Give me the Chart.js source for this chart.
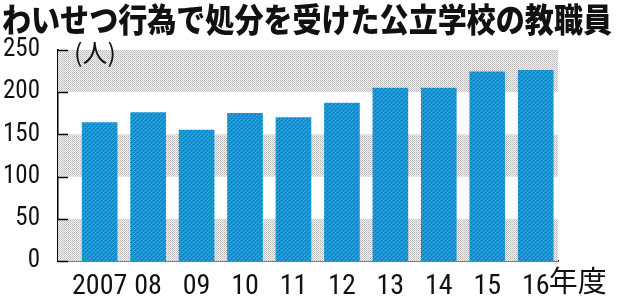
<!DOCTYPE html>
<html>
<head>
<meta charset="utf-8">
<script src="https://cdn.jsdelivr.net/npm/chart.js@4"></script>
<style>
  html, body { margin: 0; padding: 0; background: #fff; }
  #wrap { width: 618px; height: 299px; position: relative; }
</style>
</head>
<body>
<div id="wrap"><canvas id="teacherChart"></canvas></div>
<script>
// わいせつ行為で処分を受けた公立学校の教職員 (人)
const titleText = 'わいせつ行為で処分を受けた公立学校の教職員';
const years = [2007, 2008, 2009, 2010, 2011, 2012, 2013, 2014, 2015, 2016];
const yearLabels = ['2007', '08', '09', '10', '11', '12', '13', '14', '15', '16'];
const teachers = [164, 176, 155, 175, 170, 187, 205, 205, 224, 226];
const yTicks = [0, 50, 100, 150, 200, 250];
const unitLabel = '(人)';
const xUnitLabel = '年度';

// small halftone patterns, like the printed original
function makePattern(size, pixels) {
    const c = document.createElement('canvas');
    c.width = size; c.height = size;
    const g = c.getContext('2d');
    pixels.forEach((col, i) => {
        g.fillStyle = col;
        g.fillRect(i % size, Math.floor(i / size), 1, 1);
    });
    return g.createPattern(c, 'repeat');
}

const B = '#1890d0', D = '#2466b6', M = '#9c5cc2', L = '#34a6dc';
const barFill = makePattern(4, [
    B, D, B, L,
    M, B, L, B,
    B, L, B, D,
    L, B, M, B
]);
const greyFill = makePattern(2, ['#b8b8b8', '#f2f2f2', '#f2f2f2', '#cacaca']);

// grey bands, inner tick marks and text labels
const decorPlugin = {
    id: 'decor',
    beforeDatasetsDraw(chart) {
        const ctx = chart.ctx;
        const area = chart.chartArea;
        const y = chart.scales.y;
        ctx.save();
        ctx.fillStyle = greyFill;
        for (let i = 0; i < yTicks.length - 1; i += 2) {
            const top = y.getPixelForValue(yTicks[yTicks.length - 1 - i]);
            const bot = y.getPixelForValue(yTicks[yTicks.length - 2 - i]);
            ctx.fillRect(area.left, top, area.right - area.left, bot - top);
        }
        ctx.strokeStyle = '#000';
        ctx.lineWidth = 1.5;
        yTicks.forEach(v => {
            const py = Math.round(y.getPixelForValue(v)) + 0.5;
            ctx.beginPath();
            ctx.moveTo(area.left, py);
            ctx.lineTo(area.left + 10, py);
            ctx.stroke();
        });
        ctx.restore();
    },
    afterDraw(chart) {
        const ctx = chart.ctx;
        const area = chart.chartArea;
        const x = chart.scales.x;
        ctx.save();
        ctx.fillStyle = '#111';
        ctx.textBaseline = 'middle';
        ctx.textAlign = 'left';
        // title, stretched a little to the reference width
        ctx.font = '900 31px "Noto Sans CJK JP"';
        const tw = ctx.measureText(titleText).width;
        ctx.save();
        ctx.translate(2, 20);
        ctx.scale(610 / tw, 1.05);
        ctx.fillText(titleText, 0, 0);
        ctx.restore();
        ctx.font = '25px "Noto Sans CJK JP"';
        ctx.fillText(unitLabel, area.left + 16, area.top + 2);
        ctx.font = '29px "Noto Sans CJK JP"';
        ctx.fillText(xUnitLabel, x.getPixelForValue(years[years.length - 1]) + 13, 281);
        ctx.restore();
    }
};

const tickFont = '"Roboto Condensed", "Liberation Sans", sans-serif';

const ctx = document.getElementById('teacherChart');
new Chart(ctx, {
    type: 'bar',
    data: {
        datasets: [{
            data: years.map((yr, i) => ({ x: yr, y: teachers[i] })),
            backgroundColor: barFill,
            borderWidth: 0,
            barThickness: 35
        }]
    },
    options: {
        responsive: true,
        maintainAspectRatio: false,
        animation: false,
        layout: { padding: { top: 50, right: 60, left: 0, bottom: 0 } },
        plugins: {
            legend: { display: false },
            title: { display: false },
            tooltip: { enabled: false }
        },
        scales: {
            x: {
                type: 'linear',
                offset: false,
                min: 2006.14,
                max: 2016.46,
                afterBuildTicks: s => { s.ticks = years.map(v => ({ value: v })); },
                afterFit: s => { s.height = 38; },
                grid: { display: false },
                border: { display: true, color: '#000', width: 1.5 },
                ticks: {
                    callback: (v, i) => yearLabels[i],
                    color: '#111',
                    padding: 1,
                    maxRotation: 0,
                    autoSkip: false,
                    font: { family: tickFont, size: 28 }
                }
            },
            y: {
                min: 0,
                max: 250,
                afterBuildTicks: s => { s.ticks = yTicks.map(v => ({ value: v })); },
                afterFit: s => { s.width = 58; },
                grid: { display: false },
                border: { display: true, color: '#000', width: 1.5 },
                ticks: {
                    color: '#111',
                    padding: 10,
                    font: { family: tickFont, size: 25 }
                }
            }
        }
    },
    plugins: [decorPlugin]
});
</script>
</body>
</html>
